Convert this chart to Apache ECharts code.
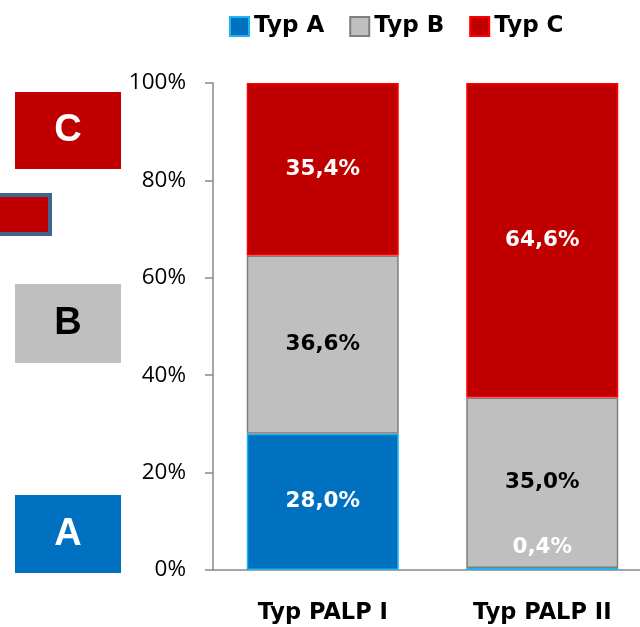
<!DOCTYPE html>
<html>
<head>
<meta charset="utf-8">
<script src="https://cdn.jsdelivr.net/npm/echarts@6/dist/echarts.min.js"></script>
<style>
html,body{margin:0;padding:0;background:#fff;}
#chart{width:640px;height:627px;}
</style>
</head>
<body>
<div id="chart"></div>
<script>
const categories = ['Typ PALP I', 'Typ PALP II'];
const seriesNames = ['Typ A', 'Typ B', 'Typ C'];
const typA = [28.0, 0.4];
const typB = [36.6, 35.0];
const typC = [35.4, 64.6];
const yTicks = [0, 20, 40, 60, 80, 100];

const BOLD_FONT = '"DejaVu Sans", sans-serif';
const REG_FONT = '"Open Sans", sans-serif';
const fmt = v => v.toFixed(1).replace('.', ',') + '%';

const chart = echarts.init(document.getElementById('chart'), null, {renderer: 'canvas'});

function labelCfg(color) {
  return {
    show: true, position: 'inside', color: color,
    fontFamily: BOLD_FONT, fontWeight: 'bold', fontSize: 21.5,
    formatter: p => fmt(p.value)
  };
}

const option = {
  animation: false,
  backgroundColor: '#ffffff',
  legend: {
    top: 10, left: 224,
    icon: 'rect', itemWidth: 19, itemHeight: 19, itemGap: 25,
    textStyle: {fontFamily: BOLD_FONT, fontWeight: 'bold', fontSize: 23, color: '#000'},
    data: seriesNames
  },
  grid: {left: 213, top: 83, width: 439, bottom: 57, containLabel: false, outerBoundsMode: 'none'},
  xAxis: {
    type: 'category', data: categories,
    axisLine: {lineStyle: {color: '#898989', width: 1.5}},
    axisTick: {show: false},
    axisLabel: {margin: 32, fontFamily: BOLD_FONT, fontWeight: 'bold', fontSize: 22.5, color: '#000'}
  },
  yAxis: {
    type: 'value', min: yTicks[0], max: yTicks[yTicks.length - 1], interval: 20,
    splitLine: {show: false},
    axisLine: {show: true, lineStyle: {color: '#898989', width: 1.5}},
    axisTick: {show: true, length: 8, lineStyle: {color: '#898989', width: 1.5}},
    axisLabel: {margin: 27, fontFamily: REG_FONT, fontSize: 22.5, color: '#000', formatter: '{value}%'}
  },
  graphic: [
    {type: 'rect', shape: {x: 15, y: 92, width: 106, height: 77}, style: {fill: '#C00000'}},
    {type: 'text', x: 68, y: 131, style: {text: 'C', fill: '#fff', font: 'bold 38px "Liberation Sans", Arial, sans-serif', align: 'center', verticalAlign: 'middle'}},
    {type: 'rect', shape: {x: -5, y: 195, width: 55, height: 39}, style: {fill: '#C00000', stroke: '#41648F', lineWidth: 4}},
    {type: 'rect', shape: {x: 15, y: 284, width: 106, height: 79}, style: {fill: '#BFBFBF'}},
    {type: 'text', x: 68, y: 324, style: {text: 'B', fill: '#000', font: 'bold 38px "Liberation Sans", Arial, sans-serif', align: 'center', verticalAlign: 'middle'}},
    {type: 'rect', shape: {x: 15, y: 495, width: 106, height: 78}, style: {fill: '#0070C0'}},
    {type: 'text', x: 68, y: 535, style: {text: 'A', fill: '#fff', font: 'bold 38px "Liberation Sans", Arial, sans-serif', align: 'center', verticalAlign: 'middle'}}
  ],
  series: [
    {
      name: seriesNames[0], type: 'bar', stack: 'total', barWidth: 152,
      itemStyle: {color: '#0070C0', borderColor: '#1FB4EE', borderWidth: 1.5},
      label: labelCfg('#fff'),
      data: typA.map((v, i) => i === 1 ? {value: v, label: {offset: [0, -22]}} : v)
    },
    {
      name: seriesNames[1], type: 'bar', stack: 'total', barWidth: 152,
      itemStyle: {color: '#BFBFBF', borderColor: '#7F7F7F', borderWidth: 1.5},
      label: labelCfg('#000'),
      data: typB
    },
    {
      name: seriesNames[2], type: 'bar', stack: 'total', barWidth: 152,
      itemStyle: {color: '#C00000', borderColor: '#FF0000', borderWidth: 1.5},
      label: labelCfg('#fff'),
      data: typC
    }
  ]
};
chart.setOption(option);
</script>
</body>
</html>
